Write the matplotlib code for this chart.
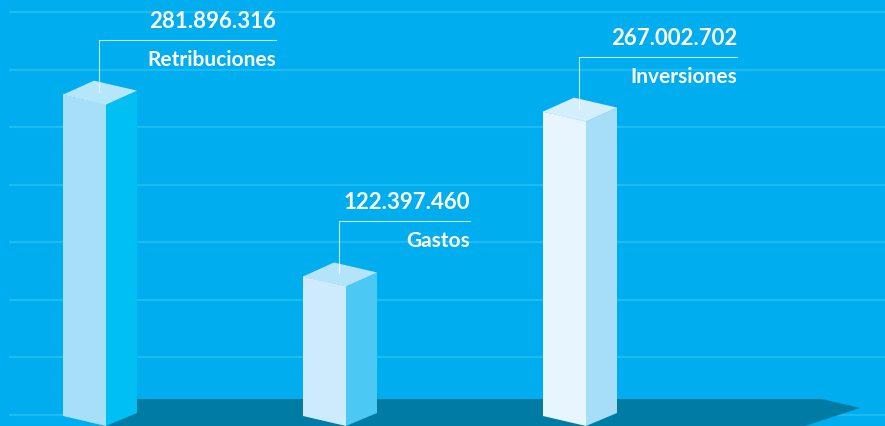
import numpy as np
import matplotlib.pyplot as plt
from matplotlib.patches import Polygon

# datos
categorias = ["Retribuciones", "Gastos", "Inversiones"]
valores = [281896316, 122397460, 267002702]
etiquetas_valor = ["281.896.316", "122.397.460", "267.002.702"]

# colores de cada barra (frente, lado, tapa)
colores_frente = ["#a7dff8", "#cdebfc", "#e7f6fe"]
colores_lado = ["#00bff2", "#4cc8f5", "#a6def8"]
colores_tapa = ["#b6e6fa", "#b3e4fa", "#d3eefc"]
fondo = "#00adee"
rejilla = "#1abcf1"
suelo = "#007ca4"

W, H = 885, 426
paso = 240            # px entre barras
px_por_millon = 1.14  # escala vertical
fig = plt.figure(figsize=(W / 100, H / 100), dpi=100)
fig.patch.set_facecolor(fondo)
ax = fig.add_axes([0, 0, 1, 1])
ax.set_facecolor(fondo)
ax.set_xlim(-106 / paso, (W - 106) / paso)
ax.set_ylim(0, H / px_por_millon)
ax.axis("off")

dx = 1 / paso           # un pixel en x
dy = 1 / px_por_millon  # un pixel en y

# lineas de fondo
lineas = np.arange(10, 380, 50.4)
ax.hlines(lineas, -97 / paso, (W - 106) / paso, color=rejilla, lw=1.6, zorder=1)

# sombra del suelo
xs = np.arange(len(valores))
xl = xs[-1]
ax.add_patch(Polygon([(xs[0], 27 * dy), (xl + 236 * dx, 27 * dy), (xl + 274 * dx, 18 * dy),
                      (xl + 219 * dx, 0), (xs[0], 0)], closed=True, fc=suelo, ec="none", zorder=2))

fuente = ["Lato", "DejaVu Sans"]
derecha = [170, 124, 151]

for i, v in enumerate(valores):
    h = v / 1e6
    xc = xs[i]
    frente = [(xc - 43 * dx, 10 * dy), (xc, 0), (xc, h), (xc - 43 * dx, h + 10 * dy)]
    lado = [(xc, 0), (xc + 31 * dx, 13 * dy), (xc + 31 * dx, h + 14 * dy), (xc, h)]
    tapa = [(xc - 43 * dx, h + 10 * dy), (xc, h), (xc + 31 * dx, h + 14 * dy), (xc - 12 * dx, h + 24 * dy)]
    ax.add_patch(Polygon(frente, closed=True, fc=colores_frente[i], ec="none", zorder=3))
    ax.add_patch(Polygon(lado, closed=True, fc=colores_lado[i], ec="none", zorder=3))
    ax.add_patch(Polygon(tapa, closed=True, fc=colores_tapa[i], ec="none", zorder=3))
    ax.plot([xc - 43 * dx, xc], [h + 10 * dy, h], color="white", lw=0.6, alpha=0.5, ls=(0, (3, 2)), zorder=4)

    # linea guia y textos
    L = h + 65 * dy
    x0 = xc - 7 * dx
    x1 = xc + derecha[i] * dx
    ax.plot([x0, x0, x1], [h + 13 * dy, L, L], color="white", lw=0.8, alpha=0.75, zorder=5)
    ax.text(x1, L + 12 * dy, etiquetas_valor[i], ha="right", va="baseline", color="white",
            fontsize=16, fontweight="bold", family=fuente, zorder=6)
    ax.text(x1, L - 26 * dy, categorias[i], ha="right", va="baseline", color="white",
            fontsize=15, fontweight="bold", family=fuente, zorder=6)

fig.savefig("out.png", dpi=100, facecolor=fondo)
